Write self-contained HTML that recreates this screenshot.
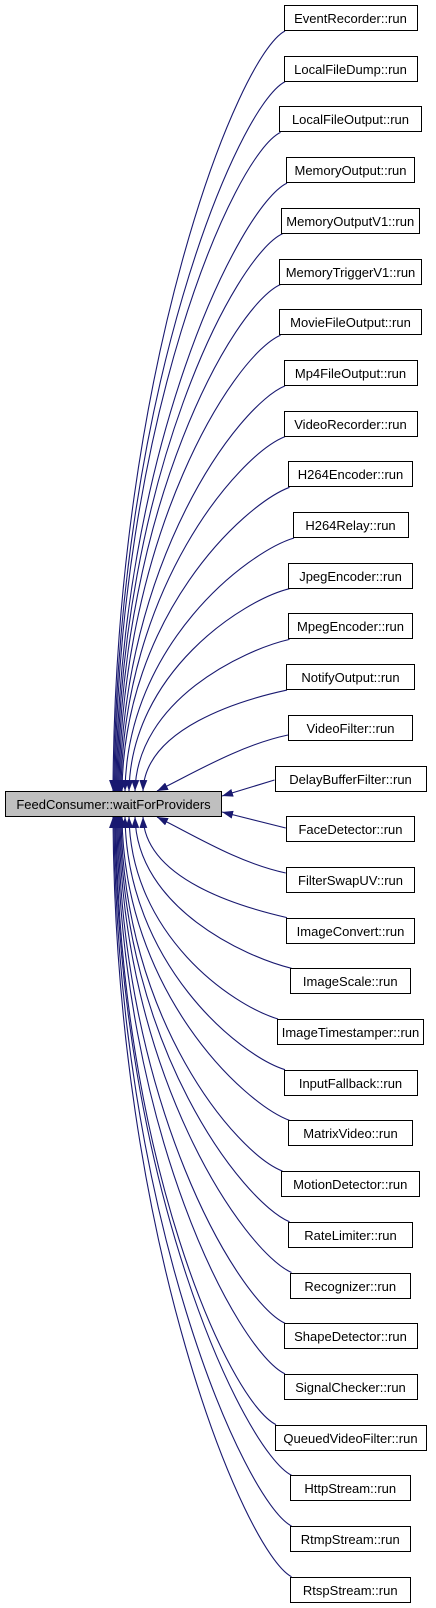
<!DOCTYPE html>
<html><head><meta charset="utf-8"><style>
body{margin:0;background:#fff;}
#c{position:relative;width:436px;height:1608px;overflow:hidden;font-family:"Liberation Sans",Arial,sans-serif;font-size:13px;}
.n{position:absolute;line-height:25px;border:1px solid #000;background:#fff;text-align:center;white-space:nowrap;box-sizing:border-box;height:26px;}
svg{position:absolute;left:0;top:0;}
</style></head><body><div id="c">
<svg width="436" height="1608">
<defs><marker id="a" markerUnits="userSpaceOnUse" markerWidth="12" markerHeight="8" refX="11" refY="4" orient="auto"><path d="M0,0 L11,4 L0,8 z" fill="#191970"/></marker></defs>
<g fill="none" stroke="#191970" stroke-width="1.1" marker-end="url(#a)">
<path d="M285,31 C238.5,55 115,366 113,791"/>
<path d="M285,81.7 C238.5,105 116,393.7 114,791"/>
<path d="M280.5,132.4 C234,155 117,421.6 115,791"/>
<path d="M287,183.1 C240.75,205 118,449.5 116,791"/>
<path d="M282.5,233.8 C236,255 119,477.4 117,791"/>
<path d="M280.5,284.5 C234,305 120,505.3 118,791"/>
<path d="M280.5,335.2 C234,355 121,533.2 119,791"/>
<path d="M285,385.9 C238.5,405 122,561 120,791"/>
<path d="M285,436.6 C238.5,455 123,588.9 121,791"/>
<path d="M289.5,487.3 C243,505 124,616.8 122,791"/>
<path d="M294,538 C247.5,552 127,644.7 125,791"/>
<path d="M289.5,588.7 C243,600 131,672.6 129,791"/>
<path d="M289.5,639.4 C243,650 137,700.5 135,791"/>
<path d="M287,690.1 C240.75,700 145,728.4 143,791"/>
<path d="M288,735 C240,745 190,775 157,791"/>
<path d="M274.5,780 L222,796"/>
<path d="M285.75,828 L222,812"/>
<path d="M285.75,873 C238,863 190,833 157,817"/>
<path d="M287,917.6 C240.75,907 145,879.5 143,817"/>
<path d="M291.5,968.3 C245,957 137,907.4 135,817"/>
<path d="M278,1019 C231.75,1005 131,935.2 129,817"/>
<path d="M285,1069.7 C238.5,1055 127,963.1 125,817"/>
<path d="M289.5,1120.4 C243,1103 124,991 122,817"/>
<path d="M282.5,1171.1 C236,1153 123,1018.9 121,817"/>
<path d="M289.5,1221.8 C243,1202 122,1046.8 120,817"/>
<path d="M291.5,1272.5 C245,1252 121,1074.7 119,817"/>
<path d="M285,1323.2 C238.5,1302 120,1102.6 118,817"/>
<path d="M285,1373.9 C238.5,1352 119,1130.5 117,817"/>
<path d="M276,1424.6 C229.5,1402 118,1158.4 116,817"/>
<path d="M291.5,1475.3 C245,1452 117,1186.2 115,817"/>
<path d="M291.5,1526 C245,1502 116,1214.1 114,817"/>
<path d="M291.5,1576.7 C245,1552 115,1242 113,817"/>
</g></svg>
<div class="n" style="left:5px;top:791px;width:217px;background:#bfbfbf;">FeedConsumer::waitForProviders</div>
<div class="n" style="left:283.5px;top:5px;width:134px">EventRecorder::run</div>
<div class="n" style="left:283.5px;top:55.7px;width:134px">LocalFileDump::run</div>
<div class="n" style="left:279px;top:106.4px;width:143px">LocalFileOutput::run</div>
<div class="n" style="left:285.75px;top:157.1px;width:129.5px">MemoryOutput::run</div>
<div class="n" style="left:281px;top:207.8px;width:138.5px">MemoryOutputV1::run</div>
<div class="n" style="left:279px;top:258.5px;width:143px">MemoryTriggerV1::run</div>
<div class="n" style="left:279px;top:309.2px;width:143px">MovieFileOutput::run</div>
<div class="n" style="left:283.5px;top:359.9px;width:134px">Mp4FileOutput::run</div>
<div class="n" style="left:283.5px;top:410.6px;width:134px">VideoRecorder::run</div>
<div class="n" style="left:288px;top:461.3px;width:125px">H264Encoder::run</div>
<div class="n" style="left:292.5px;top:512px;width:116px">H264Relay::run</div>
<div class="n" style="left:288px;top:562.7px;width:125px">JpegEncoder::run</div>
<div class="n" style="left:288px;top:613.4px;width:125px">MpegEncoder::run</div>
<div class="n" style="left:285.75px;top:664.1px;width:129.5px">NotifyOutput::run</div>
<div class="n" style="left:288px;top:714.8px;width:125px">VideoFilter::run</div>
<div class="n" style="left:274.5px;top:765.5px;width:152px">DelayBufferFilter::run</div>
<div class="n" style="left:285.75px;top:816.2px;width:129.5px">FaceDetector::run</div>
<div class="n" style="left:285.75px;top:866.9px;width:129.5px">FilterSwapUV::run</div>
<div class="n" style="left:285.75px;top:917.6px;width:129.5px">ImageConvert::run</div>
<div class="n" style="left:290px;top:968.3px;width:120.5px">ImageScale::run</div>
<div class="n" style="left:276.75px;top:1019px;width:147.5px">ImageTimestamper::run</div>
<div class="n" style="left:283.5px;top:1069.7px;width:134px">InputFallback::run</div>
<div class="n" style="left:288px;top:1120.4px;width:125px">MatrixVideo::run</div>
<div class="n" style="left:281px;top:1171.1px;width:138.5px">MotionDetector::run</div>
<div class="n" style="left:288px;top:1221.8px;width:125px">RateLimiter::run</div>
<div class="n" style="left:290px;top:1272.5px;width:120.5px">Recognizer::run</div>
<div class="n" style="left:283.5px;top:1323.2px;width:134px">ShapeDetector::run</div>
<div class="n" style="left:283.5px;top:1373.9px;width:134px">SignalChecker::run</div>
<div class="n" style="left:274.5px;top:1424.6px;width:152px">QueuedVideoFilter::run</div>
<div class="n" style="left:290px;top:1475.3px;width:120.5px">HttpStream::run</div>
<div class="n" style="left:290px;top:1526px;width:120.5px">RtmpStream::run</div>
<div class="n" style="left:290px;top:1576.7px;width:120.5px">RtspStream::run</div>
</div></body></html>
